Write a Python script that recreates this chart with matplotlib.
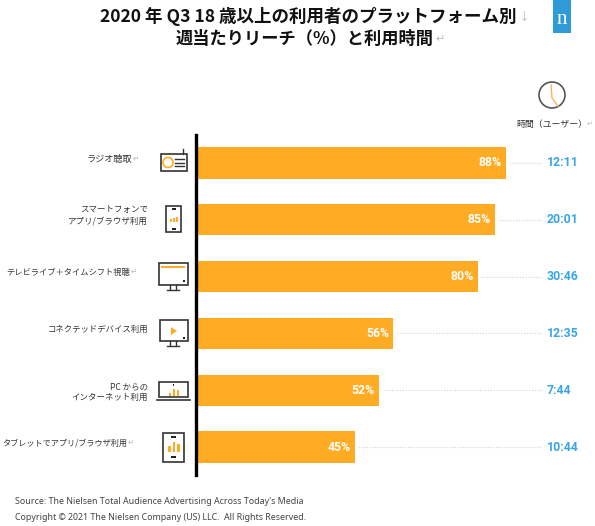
import matplotlib
matplotlib.use('Agg')
from matplotlib import pyplot as plt
from matplotlib.patches import Rectangle, Circle, Polygon

plt.rcParams['font.family'] = ['Noto Sans CJK JP', 'DejaVu Sans']

# datos
categories = ['ラジオ聴取', 'スマートフォンで\nアプリ/ブラウザ利用', 'テレビライブ＋タイムシフト視聴',
              'コネクテッドデバイス利用', 'PC からの\nインターネット利用', 'タブレットでアプリ/ブラウザ利用']
reach = [88, 85, 80, 56, 52, 45]
times = ['12:11', '20:01', '30:46', '12:35', '7:44', '10:44']

W, H = 595, 526
ORANGE = '#FFAB24'
BLUE = '#3AA5E6'
DARK = '#333333'
GREY = '#BBBBBB'

fig = plt.figure(figsize=(W / 100, H / 100), dpi=100, facecolor='white')

# eje de las barras: x=196.3 a 595 px, y=135 a 475 px
ax = fig.add_axes([196.3 / W, 1 - 475 / H, (W - 196.3) / W, 340 / H])
ax.set_xlim(0, (W - 196.3) / 3.516)
ax.set_ylim(5.49, -0.49)
pos = list(range(len(reach)))
ax.barh(pos, reach, height=0.555, color=ORANGE, zorder=2)
for s in ['top', 'right', 'bottom']:
    ax.spines[s].set_visible(False)
ax.spines['left'].set_linewidth(2.4)
ax.spines['left'].set_color('black')
ax.spines['left'].set_zorder(3)
ax.set_xticks([])
ax.set_yticks([])

for p, v, t in zip(pos, reach, times):
    ax.hlines(p, v + 1, 98.2, color='#D9D9D9', linewidth=0.9, linestyles=(0, (1, 1.2)), zorder=1)
    ax.annotate(f'{v}%', (v, p), xytext=(-3, 0), textcoords='offset points', ha='right', va='center',
                color='white', fontsize=8.8, fontweight='bold', family='Roboto', zorder=4)
    ax.text(99.6, p, t, ha='left', va='center', color=BLUE, fontsize=8.8, fontweight='bold', family='Roboto')

# capa en pixeles para titulo, etiquetas e iconos
ov = fig.add_axes([0, 0, 1, 1], zorder=5)
ov.set_xlim(0, W)
ov.set_ylim(H, 0)
ov.axis('off')
ov.patch.set_alpha(0)

# titulo
ov.text(516, 17, '2020 年 Q3 18 歳以上の利用者のプラットフォーム別', ha='right', va='center',
        fontsize=12.6, fontweight='bold', color='#111111')
ov.text(518, 17, '↓', ha='left', va='center', fontsize=8, color=GREY)
ov.text(434, 39, '週当たりリーチ（%）と利用時間', ha='right', va='center',
        fontsize=12.4, fontweight='bold', color='#111111')
ov.text(435, 39, '↵', ha='left', va='center', fontsize=8, color=GREY)

# logo
ov.add_patch(Rectangle((553, 0), 18, 33, color='#2E9BD6', lw=0))
ov.text(562, 20, 'n', ha='center', va='center', color='white', fontsize=15, family='Liberation Serif')

# reloj
ov.add_patch(Circle((552, 95), 13, fill=False, ec='#555555', lw=1.2))
ov.plot([551, 552, 558], [85, 98, 106], color='#F5B759', lw=1)
ov.text(516, 124, '時間（ユーザー）', ha='left', va='center', fontsize=6.4, color=DARK)
ov.text(587, 124, '↵', ha='left', va='center', fontsize=5, color=GREY)

# etiquetas de categoria
label_right = [132, 148, 130, 148, 148, 127]
label_y = [159, 215, 272, 329, 392, 443]
label_size = [6.6, 6.1, 5.95, 6.05, 6.1, 5.85]
has_return = [True, False, True, False, False, True]
for c, x, y, fs, r in zip(categories, label_right, label_y, label_size, has_return):
    ov.text(x, y, c, ha='right', va='center', fontsize=fs, color=DARK, linespacing=1.3)
    if r:
        ov.text(x + 0.5, y, '↵', ha='left', va='center', fontsize=5.5, color=GREY)


def box(x0, y0, x1, y1):
    ov.add_patch(Rectangle((x0, y0), x1 - x0, y1 - y0, fill=False, ec='#333333', lw=1.2))


def orange_bars(xs, base, heights, w=2.5):
    for x, h in zip(xs, heights):
        ov.add_patch(Rectangle((x, base - h), w, h, color=ORANGE, lw=0))


def dark(x0, y0, x1, y1):
    ov.add_patch(Rectangle((x0, y0), x1 - x0, y1 - y0, color='#222222', lw=0))


# radio
box(161, 154, 187, 170.5)
ov.plot([183, 183], [149, 154], color='#333333', lw=1)
ov.add_patch(Circle((168, 162.5), 5, fill=False, ec=ORANGE, lw=1.2))
for y in [159, 162.5, 166]:
    ov.plot([175, 184], [y, y], color='#333333', lw=1)

# telefono
box(166, 206, 181, 232)
dark(171.5, 208, 175.5, 209.5)
dark(171.5, 228, 175.5, 229.5)
orange_bars([170, 173, 176], 222, [3, 4, 5.5], w=2)

# monitor
box(159, 263, 187.5, 285)
ov.plot([162, 184], [266.5, 266.5], color=ORANGE, lw=1.4)
dark(183, 280, 185, 282)
ov.plot([170, 170], [285, 289], color='#333333', lw=1)
ov.plot([176, 176], [285, 289], color='#333333', lw=1)
ov.plot([167, 179], [290, 290], color='#333333', lw=1)

# dispositivo conectado
box(159.5, 320, 187.5, 341)
ov.add_patch(Polygon([(171, 327), (171, 335), (177, 331)], color=ORANGE, lw=0))
dark(183, 337, 185, 339)
ov.plot([170, 170], [341, 345], color='#333333', lw=1)
ov.plot([176, 176], [341, 345], color='#333333', lw=1)
ov.plot([167, 179], [346, 346], color='#333333', lw=1)

# portatil
box(159, 382, 187.5, 397)
ov.plot([157, 190], [400, 400], color='#333333', lw=1.2)
orange_bars([168.5, 172.5, 176.5], 396, [3.5, 7, 6])
dark(172.8, 384, 174, 385.5)

# tablet
box(163, 433, 184, 461.5)
dark(171, 436, 176, 437.5)
dark(171, 456, 176, 457.5)
orange_bars([168, 172.5, 177], 452, [6, 10, 8])

# pie
ov.text(15, 501.5, "Source: The Nielsen Total Audience Advertising Across Today's Media", ha='left', va='center',
        fontsize=6.4, color='#444444', family='Noto Sans')
ov.text(15, 518, 'Copyright © 2021 The Nielsen Company (US) LLC.  All Rights Reserved.', ha='left', va='center',
        fontsize=6.4, color='#444444', family='Noto Sans')

fig.savefig('out.png', dpi=100)
